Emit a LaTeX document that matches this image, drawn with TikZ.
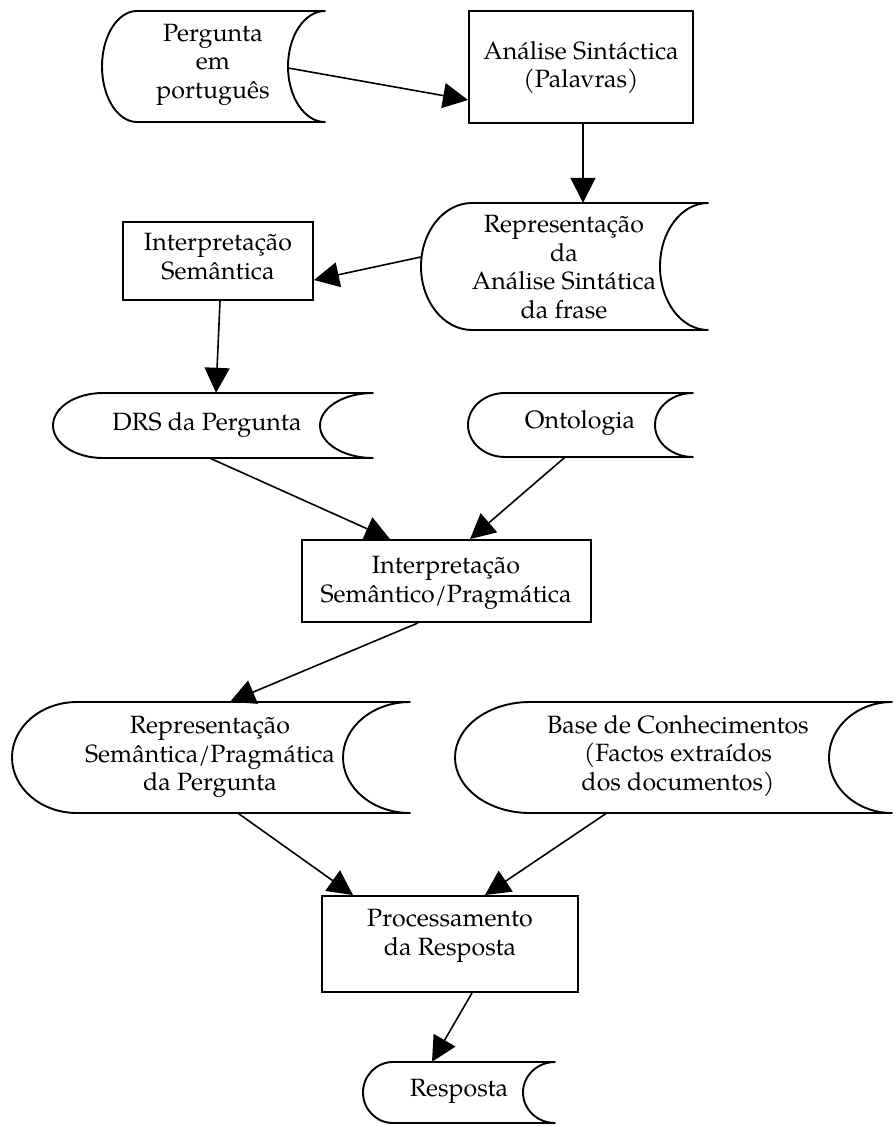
\documentclass[tikz,border=0pt]{standalone}
\usepackage{fontspec}
\setmainfont{TeX Gyre Pagella}
\usetikzlibrary{arrows.meta,calc}
\tikzset{
  shapeline/.style={line width=1.9pt, fill=white, line join=round},
  boxnode/.style={draw, line width=1.9pt, inner sep=0pt, fill=white},
  bbox/.style={inner sep=0pt, draw=none},
  txt/.style={align=center, inner sep=0pt, anchor=north,
    font=\fontsize{25}{28.5}\selectfont,
    execute at begin node={\rule{0pt}{24pt}}},
  arr/.style={line width=1.6pt, -{Triangle[length=25pt,width=25pt]}},
}
% #1 name, #2 x1, #3 y1, #4 x2, #5 y2, #6 left depth, #7 right depth
\newcommand\storeddata[7]{%
  \pgfmathsetmacro\sdym{(#3+#5)/2}%
  \pgfmathsetmacro\sdk{0.5523*(#5-#3)/2}%
  \draw[shapeline] (#4,#3)
    .. controls ({#4-0.5523*#7},#3) and ({#4-#7},{\sdym-\sdk}) .. ({#4-#7},\sdym)
    .. controls ({#4-#7},{\sdym+\sdk}) and ({#4-0.5523*#7},#5) .. (#4,#5)
    -- ({#2+#6},#5)
    .. controls ({#2+#6-0.5523*#6},#5) and (#2,{\sdym+\sdk}) .. (#2,\sdym)
    .. controls (#2,{\sdym-\sdk}) and ({#2+#6-0.5523*#6},#3) .. ({#2+#6},#3)
    -- cycle;
  \node[bbox, minimum width={(#4-#2)*1pt}, minimum height={(#5-#3)*1pt}]
    (#1) at ({(#2+#4)/2},\sdym) {};
}
\begin{document}
\begin{tikzpicture}[x=1pt,y=-1pt]
\useasboundingbox (0,0) rectangle (894,1126);

% stored-data shapes
\storeddata{s1}{102}{11}{325}{122}{35}{37}
\storeddata{s2}{421}{203}{708}{330}{51}{48}
\storeddata{s3}{53}{393}{373}{458}{50}{53}
\storeddata{s4}{468}{393}{693}{457}{37}{38}
\storeddata{s5}{12}{702}{410}{813}{65}{67}
\storeddata{s6}{455}{702}{892}{813}{75}{63}
\storeddata{s7}{363}{1062}{555}{1123}{30}{32}

% process boxes
\node[boxnode, minimum width=224pt, minimum height=112pt] (bA) at (581,67) {};
\node[boxnode, minimum width=190pt, minimum height=78pt] (bIS) at (218,261) {};
\node[boxnode, minimum width=289pt, minimum height=82pt] (bISP) at (446.5,581) {};
\node[boxnode, minimum width=256pt, minimum height=96pt] (bP) at (450,944) {};

% texts
\node[txt] (t1) at (213,24) {Pergunta\\em\\português};
\node[txt] (tA) at (581,41) {Análise Sintáctica\\(Palavras)};
\node[txt] (t2) at (564,215) {Representação\\da\\Análise Sintática\\da frase};
\node[txt] (tIS) at (218,233) {Interpretação\\Semântica};
\node[txt] (t3) at (207,406) {DRS da Pergunta};
\node[txt] (t4) at (580,404) {Ontologia};
\node[txt] (tISP) at (446,556) {Interpretação\\Semântico/Pragmática};
\node[txt] (t5) at (210,716) {Representação\\Semântica/Pragmática\\da Pergunta};
\node[txt] (t6) at (678,715) {Base de Conhecimentos\\(Factos extraídos\\dos documentos)};
\node[txt] (tP) at (450,909) {Processamento\\da Resposta};
\node[txt] (t7) at (459,1072) {Resposta};

% connectors
\draw[arr] ($(s1.east)+(-37,1.5)$) -- ($(bA.west)+(0,33)$);
\draw[arr] ($(bA.south)+(2,0)$) -- ($(s2.north)+(18.5,0)$);
\draw[arr] ($(s2.west)+(0,-9.5)$) -- ($(bIS.east)+(0,19)$);
\draw[arr] ($(bIS.south)+(2,0)$) -- ($(s3.north)+(3,0)$);
\draw[arr] ($(s3.south)+(-3,0)$) -- ($(bISP.north)+(-56.5,0)$);
\draw[arr] ($(s4.south)+(-15.5,0)$) -- ($(bISP.north)+(23.5,0)$);
\draw[arr] ($(bISP.south)+(-28.5,0)$) -- ($(s5.north)+(19,0)$);
\draw[arr] ($(s5.south)+(27,0)$) -- ($(bP.north)+(-97,0)$);
\draw[arr] ($(s6.south)+(-67,0)$) -- ($(bP.north)+(35,0)$);
\draw[arr] ($(bP.south)+(22,0)$) -- ($(s7.north)+(-27,0)$);
\end{tikzpicture}
\end{document}
